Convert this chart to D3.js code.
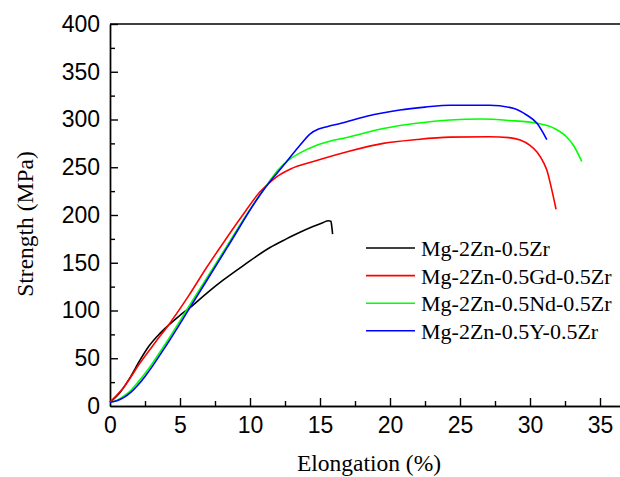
<!DOCTYPE html>
<html>
<head>
<meta charset="utf-8">
<script src="https://cdn.jsdelivr.net/npm/d3@7"></script>
<style>
  body { margin: 0; background: #fff; }
  svg { display: block; }
</style>
</head>
<body>
<svg id="chart" width="620" height="477"></svg>
<script>
// series: [elongation %, strength MPa]
const seriesNames = ["Mg-2Zn-0.5Zr", "Mg-2Zn-0.5Gd-0.5Zr", "Mg-2Zn-0.5Nd-0.5Zr", "Mg-2Zn-0.5Y-0.5Zr"]
const seriesColors = ["#000000", "#ff0000", "#00ff00", "#0000ff"]

const mgZnZr = [[0, 4], [0.7, 14], [1.4, 29], [2.14, 48], [2.8, 63], [3.57, 76], [4.29, 86], [5, 95], [5.71, 103],
  [6.9, 118], [8.1, 132], [9.52, 147], [11.43, 166], [12.6, 175], [13.57, 182], [14.5, 188], [15.2, 192],
  [15.6, 194], [15.78, 193.5], [15.84, 188], [15.9, 180]]
const mgZnGdZr = [[0, 4], [1, 20], [2.14, 45], [3.2, 66], [4.29, 87], [5.6, 115], [6.9, 145], [8.1, 171],
  [9.29, 196], [10.7, 224], [11.9, 240], [12.86, 248], [14.76, 257], [17.14, 267], [19.52, 275], [21.9, 279],
  [24.3, 281.5], [27.1, 282], [28.5, 281], [29.3, 278.5], [30, 273], [30.5, 266], [31, 254], [31.2, 247],
  [31.5, 230], [31.86, 206]]
const mgZnNdZr = [[0, 4], [0.5, 6], [1, 10.5], [1.5, 16.5], [2, 25], [2.5, 34], [3, 44], [3.5, 55], [4, 66],
  [5.71, 106], [8.33, 167], [9.6, 197], [10.95, 226], [12, 247], [12.7, 257], [13.57, 265], [14.76, 273],
  [17.14, 282], [19.52, 290.5], [21.9, 296], [24.3, 299.5], [26.5, 300.5], [28.5, 299], [30.5, 296], [31.7, 291],
  [32.6, 282], [33.1, 273], [33.7, 256]]
const mgZnYZr = [[0, 4], [0.5, 5.5], [1, 9], [1.5, 14.5], [2, 22], [2.5, 31], [3, 41], [3.5, 52], [4, 63],
  [5.71, 103], [8.33, 165], [10.95, 226], [12.4, 252], [13.57, 273], [14.3, 285], [14.9, 290], [15.5, 292.5],
  [16.5, 296], [18.33, 303.5], [20.7, 310], [22.5, 313], [24.3, 315], [27.1, 315], [28.8, 311.7], [29.76, 304.7],
  [30.5, 296], [31.2, 279]]

const xMajor = [0, 5, 10, 15, 20, 25, 30, 35]
const xMinor = [2.5, 7.5, 12.5, 17.5, 22.5, 27.5, 32.5]
const yMajor = [0, 50, 100, 150, 200, 250, 300, 350, 400]
const yMinor = [25, 75, 125, 175, 225, 275, 325, 375]

const allSeries = [mgZnZr, mgZnGdZr, mgZnNdZr, mgZnYZr]

const margin = { top: 24, left: 110, right: 0, bottom: 71 }
const W = 620, H = 477

const svg = d3.select("#chart")

// x: 0..35 spans 110..600, plot keeps going to the right edge
const x = d3.scaleLinear().domain([0, 35]).range([margin.left, 600])
const xEnd = x.invert(W)
x.domain([0, xEnd]).range([margin.left, W])
const y = d3.scaleLinear().domain([0, 400]).range([H - margin.bottom, margin.top])

const tickFont = "'Liberation Sans', Arial, sans-serif"
const titleFont = "'Liberation Serif', 'Times New Roman', serif"

// minor ticks first
svg.append("g")
  .attr("transform", "translate(0," + y(0) + ")")
  .call(d3.axisBottom(x).tickValues(xMinor).tickSizeInner(-5).tickSizeOuter(0).tickFormat(""))
svg.append("g")
  .attr("transform", "translate(" + x(0) + ",0)")
  .call(d3.axisLeft(y).tickValues(yMinor).tickSizeInner(-5).tickSizeOuter(0).tickFormat(""))

svg.append("g")
  .attr("transform", "translate(0," + y(0) + ")")
  .call(d3.axisBottom(x).tickValues(xMajor).tickSizeInner(-8).tickSizeOuter(0).tickPadding(11).tickFormat(d3.format("d")))
svg.append("g")
  .attr("transform", "translate(" + x(0) + ",0)")
  .call(d3.axisLeft(y).tickValues(yMajor).tickSizeInner(-8).tickSizeOuter(0).tickPadding(10).tickFormat(d3.format("d")))

svg.selectAll(".domain, .tick line").attr("stroke", "#000").attr("stroke-width", 1.4)
svg.selectAll(".tick text")
  .attr("font-family", tickFont)
  .attr("font-size", 23)
  .attr("fill", "#000")
svg.selectAll(".tick")
  .filter(d => d === 0)
  .select("line").remove()

// top border
svg.append("line")
  .attr("x1", x(0)).attr("x2", W)
  .attr("y1", y(400)).attr("y2", y(400))
  .attr("stroke", "#000").attr("stroke-width", 1.4)

// curves
const line = d3.line()
  .curve(d3.curveMonotoneX)
  .x(d => x(d[0]))
  .y(d => y(d[1]))

svg.selectAll(".curve")
  .data(allSeries)
  .enter()
  .append("path")
  .attr("class", "curve")
  .attr("fill", "none")
  .attr("stroke", (d, i) => seriesColors[i])
  .attr("stroke-width", 1.6)
  .attr("d", line)

// axis titles
svg.append("text")
  .attr("x", 369).attr("y", 471)
  .attr("text-anchor", "middle")
  .attr("font-family", titleFont)
  .attr("font-size", 23.5)
  .text("Elongation (%)")

svg.append("text")
  .attr("transform", "translate(33,224) rotate(-90)")
  .attr("text-anchor", "middle")
  .attr("font-family", titleFont)
  .attr("font-size", 23.5)
  .text("Strength (MPa)")

// legend
const legend = svg.append("g").attr("transform", "translate(366,248)")
const rows = legend.selectAll("g")
  .data(seriesNames)
  .enter()
  .append("g")
  .attr("transform", (d, i) => "translate(0," + (i * 27.6) + ")")
rows.append("line")
  .attr("x1", 0).attr("x2", 49)
  .attr("stroke", (d, i) => seriesColors[i])
  .attr("stroke-width", 1.6)
rows.append("text")
  .attr("x", 55)
  .attr("dy", "0.36em")
  .attr("font-family", titleFont)
  .attr("font-size", 22)
  .text(d => d)
</script>
</body>
</html>
